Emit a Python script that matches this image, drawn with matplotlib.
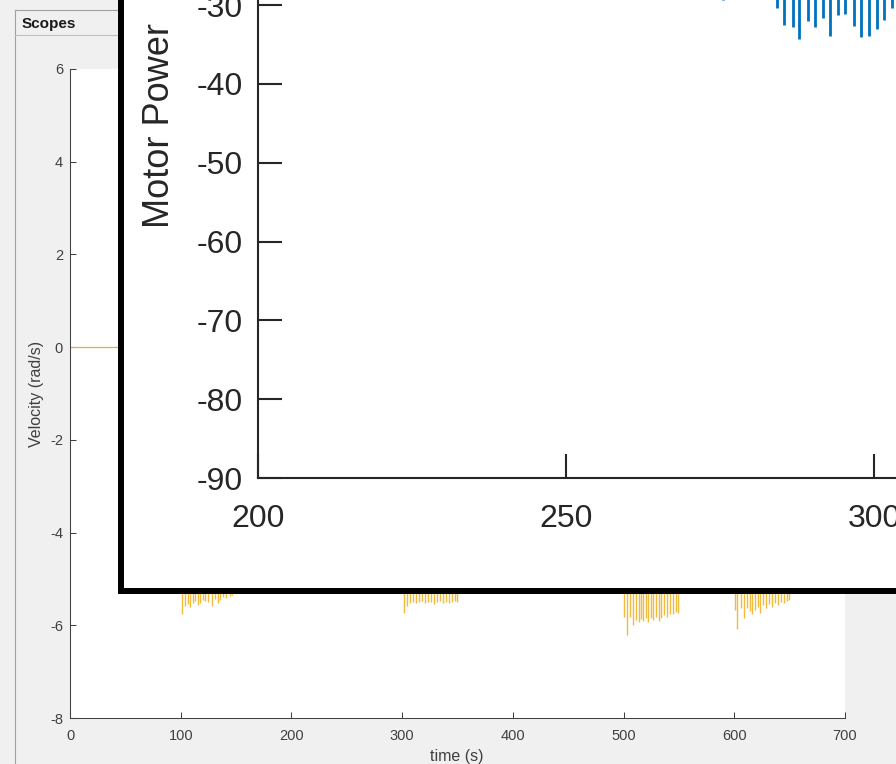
"""Scope screenshot with a zoomed motor power overlay."""

import matplotlib
matplotlib.use("Agg")
import matplotlib.pyplot as plt
from matplotlib.lines import Line2D
from matplotlib.patches import Rectangle

plt.rcParams["font.family"] = ["Liberation Sans", "DejaVu Sans"]
plt.rcParams["axes.unicode_minus"] = False

W, H = 896, 764

# velocity scope (rad/s): the part left visible under the overlay
rest_time = [0, 100]
rest_velocity = [0.0, 0.0]

burst_time = [
    101.2, 103.9, 106.6, 108.4, 111.1, 112.9, 115.6, 117.4, 120.1, 121.9,
    124.6, 128.3, 131.0, 133.7, 135.5, 138.2, 140.9, 144.5, 146.3,
    301.7, 304.4, 307.0, 309.7, 312.4, 315.0, 317.8, 320.5, 323.2, 325.9,
    328.6, 331.3, 334.0, 336.7, 339.4, 342.1, 344.8, 347.5, 349.6,
    500.4, 503.1, 505.8, 508.5, 511.2, 513.9, 515.8, 517.6, 520.3, 522.1,
    524.8, 526.6, 529.3, 532.0, 533.8, 536.5, 539.2, 541.9, 544.7, 547.4, 549.2,
    600.7, 602.5, 606.1, 608.8, 611.5, 614.2, 616.0, 618.7, 621.4, 623.2,
    625.9, 628.7, 631.4, 634.1, 636.8, 639.5, 642.2, 644.9, 647.6, 649.4,
]
burst_min = [
    -5.76, -5.58, -5.54, -5.61, -5.52, -5.48, -5.56, -5.52, -5.45, -5.48,
    -5.50, -5.58, -5.43, -5.52, -5.45, -5.39, -5.41, -5.37, -5.35,
    -5.73, -5.58, -5.52, -5.50, -5.52, -5.50, -5.48, -5.52, -5.50, -5.50,
    -5.54, -5.50, -5.48, -5.52, -5.50, -5.52, -5.50, -5.48, -5.50,
    -5.82, -6.21, -5.82, -5.99, -5.88, -5.93, -5.86, -5.91, -5.84, -5.93,
    -5.84, -5.88, -5.82, -5.91, -5.84, -5.78, -5.82, -5.76, -5.76, -5.71, -5.73,
    -5.67, -6.08, -5.63, -5.84, -5.63, -5.69, -5.76, -5.67, -5.60, -5.73,
    -5.56, -5.63, -5.54, -5.60, -5.52, -5.56, -5.50, -5.52, -5.48, -5.45,
]
burst_top = -4.5

# motor power overlay (W)
power_time = [275.5, 284.3, 285.4, 286.9, 287.8, 289.3, 290.4, 291.7, 292.9,
              294.2, 295.3, 296.8, 297.9, 299.2, 300.5, 301.6, 302.9]
power_min = [-29.4, -30.4, -32.5, -32.8, -34.3, -32.0, -32.8, -31.6, -33.9,
             -31.2, -31.1, -32.6, -34.0, -33.9, -33.0, -31.9, -30.4]
power_top = -25


def fx(px):
    return px / W


def fy(py):
    return 1 - py / H


fig = plt.figure(figsize=(W / 100, H / 100), dpi=100, facecolor="#f0f0f0")

# scope window frame (kept under the overlay box)
frame = dict(lw=0.8, transform=fig.transFigure, zorder=0.5)
fig.add_artist(Line2D([fx(15), fx(15)], [fy(10), fy(770)], color="#a0a0a0", **frame))
fig.add_artist(Line2D([fx(15), fx(130)], [fy(10), fy(10)], color="#a0a0a0", **frame))
fig.add_artist(Line2D([fx(15), fx(130)], [fy(35), fy(35)], color="#c0c0c0", **frame))
fig.text(fx(22), fy(28), "Scopes", fontsize=11, fontweight="bold", color="#1a1a1a",
         va="baseline", ha="left", zorder=0.5)

# velocity scope
ax_v = fig.add_axes([fx(70), fy(718), 775 / W, 649 / H], zorder=0)
ax_v.set_facecolor("white")
ax_v.plot(rest_time, rest_velocity, color="#EDB120", lw=0.9)
ax_v.vlines(burst_time, burst_top, burst_min, color="#EDB120", lw=1.0, alpha=0.85)
ax_v.set_xlim(0, 700)
ax_v.set_ylim(-8, 6)
ax_v.set_xticks(range(0, 701, 100))
ax_v.set_yticks(range(-8, 7, 2))
for side in ("top", "right"):
    ax_v.spines[side].set_visible(False)
for side in ("left", "bottom"):
    ax_v.spines[side].set_color("#404040")
    ax_v.spines[side].set_linewidth(0.75)
ax_v.tick_params(direction="in", length=4.3, width=0.75, color="#404040",
                 labelsize=10.5, labelcolor="#404040")
ax_v.tick_params(axis="x", pad=8)
ax_v.tick_params(axis="y", pad=5)
fig.text(fx(37), fy(394), "Velocity (rad/s)", rotation=90, ha="center", va="center",
         fontsize=11.5, color="#404040")
fig.text(fx(457), fy(749), "time (s)", ha="center", va="top", fontsize=11.5,
         color="#404040")

# overlay box
box = Rectangle((fx(121), fy(591)), 2, 2, transform=fig.transFigure,
                facecolor="white", edgecolor="black", lw=4.3, joinstyle="miter",
                zorder=1)
fig.add_artist(box)

# motor power zoom
ax_p = fig.add_axes([fx(258), fy(478), 924 / W, 551.6 / H], zorder=2)
ax_p.patch.set_visible(False)
ax_p.vlines(power_time, power_top, power_min, color="#0072BD", lw=2.0)
ax_p.set_xlim(200, 350)
ax_p.set_ylim(-90, -20)
ax_p.set_xticks(range(200, 351, 50))
ax_p.set_yticks(range(-90, -19, 10))
for side in ("top", "right"):
    ax_p.spines[side].set_visible(False)
for side in ("left", "bottom"):
    ax_p.spines[side].set_color("#262626")
    ax_p.spines[side].set_linewidth(1.5)
ax_p.tick_params(direction="in", length=17, width=1.5, color="#262626",
                 labelsize=23, labelcolor="#262626")
ax_p.tick_params(axis="x", pad=19)
ax_p.tick_params(axis="y", pad=11)
fig.text(fx(159), fy(228), "Motor Power", rotation=90, ha="center", va="bottom",
         fontsize=26, color="#262626", zorder=3)

fig.savefig("out.png", dpi=100, facecolor=fig.get_facecolor())
